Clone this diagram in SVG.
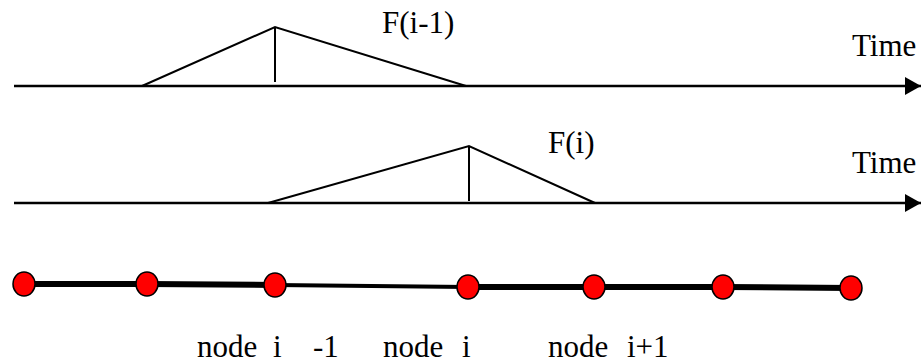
<svg xmlns="http://www.w3.org/2000/svg" width="921" height="363" viewBox="0 0 921 363">
<defs>
<style>
.ax{stroke:#000;stroke-width:2.5;fill:none}
.tri{stroke:#000;stroke-width:2;fill:none}
.thick{stroke:#000;stroke-width:6;fill:none}
.thin{stroke:#000;stroke-width:4;fill:none}
.nd{fill:#ff0000;stroke:#000;stroke-width:1.5}
.t{font-family:'Liberation Serif','Times New Roman',Times,serif;font-size:31px;fill:#000}
</style>
<marker id="arr" markerUnits="userSpaceOnUse" markerWidth="16" markerHeight="18" refX="16" refY="9" orient="auto">
<path d="M0,0 L16,9 L0,18 Z" fill="#000"/>
</marker>
</defs>
<rect width="921" height="363" fill="#fff"/>
<g id="axis1">
<line class="ax" x1="14" y1="86" x2="921" y2="86" marker-end="url(#arr)"/>
<polyline class="tri" points="142,86 275,27 466,86"/>
<line class="tri" x1="275" y1="28" x2="275" y2="82"/>
<text class="t" font-family="Liberation Serif" x="382" y="33">F(i-1)</text>
<text class="t" font-family="Liberation Serif" x="852" y="56">Time</text>
</g>
<g id="axis2">
<line class="ax" x1="14" y1="203" x2="921" y2="203" marker-end="url(#arr)"/>
<polyline class="tri" points="268,203 469,146 595,203"/>
<line class="tri" x1="469" y1="147" x2="469" y2="201"/>
<text class="t" font-family="Liberation Serif" x="548" y="153">F(i)</text>
<text class="t" font-family="Liberation Serif" x="852" y="173">Time</text>
</g>
<g id="connectors">
<polyline class="thick" points="24,284 147,284 275,285"/>
<line class="thin" x1="275" y1="285" x2="468" y2="287"/>
<polyline class="thick" points="468,287 594,287 723,287 851,288"/>
</g>
<g id="n1"><ellipse class="nd" cx="24" cy="284" rx="11" ry="12"/></g>
<g id="n2"><ellipse class="nd" cx="147" cy="284" rx="11" ry="12"/></g>
<g id="n3"><ellipse class="nd" cx="275" cy="285" rx="11" ry="12"/></g>
<g id="n4"><ellipse class="nd" cx="468" cy="287" rx="11" ry="12"/></g>
<g id="n5"><ellipse class="nd" cx="594" cy="287" rx="11" ry="12"/></g>
<g id="n6"><ellipse class="nd" cx="723" cy="287" rx="11" ry="12"/></g>
<g id="n7"><ellipse class="nd" cx="851" cy="288" rx="11" ry="12"/></g>
<g id="labels">
<text class="t" font-family="Liberation Serif" x="197" y="357">node</text>
<text class="t" font-family="Liberation Serif" x="273" y="357">i</text>
<text class="t" font-family="Liberation Serif" x="313" y="357">-1</text>
<text class="t" font-family="Liberation Serif" x="383" y="357">node</text>
<text class="t" font-family="Liberation Serif" x="462" y="357">i</text>
<text class="t" font-family="Liberation Serif" x="548" y="357">node</text>
<text class="t" font-family="Liberation Serif" x="627" y="357">i+1</text>
</g>
</svg>
